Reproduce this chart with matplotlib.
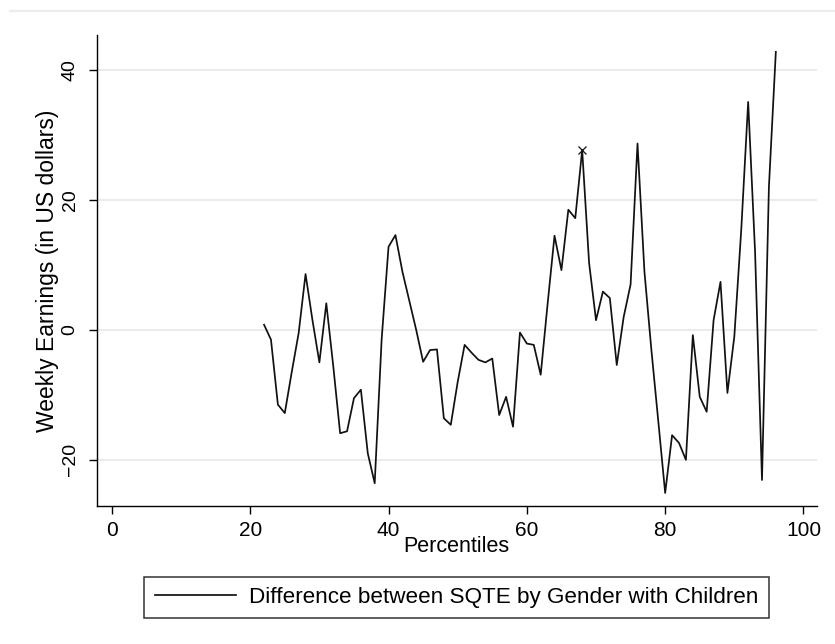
#!/usr/bin/env python3
import numpy as np
import matplotlib
matplotlib.use('Agg')
import matplotlib.pyplot as plt
from matplotlib.lines import Line2D

plt.rcParams['font.family'] = ['Liberation Sans', 'DejaVu Sans']

# percentiles 22..96
percentiles = list(range(22, 97))
difference = [
    0.8, -1.5, -11.5, -12.8, -6.5, -0.5, 8.6, 1.5, -5.0, 4.1,
    -5.5, -15.9, -15.6, -10.5, -9.2, -19.0, -23.6, -1.5, 12.8, 14.6,
    9.0, 4.5, 0.0, -4.9, -3.1, -3.0, -13.6, -14.6, -8.0, -2.3,
    -3.5, -4.6, -5.0, -4.4, -13.1, -10.3, -14.9, -0.4, -2.1, -2.3,
    -6.9, 4.0, 14.5, 9.2, 18.5, 17.2, 27.7, 10.3, 1.5, 5.9,
    4.9, -5.4, 2.0, 7.0, 28.7, 9.0, -3.0, -14.0, -25.1, -16.2,
    -17.4, -20.0, -0.8, -10.3, -12.6, 1.5, 7.4, -9.7, -1.0, 15.4,
    35.1, 12.0, -23.1, 22.0, 42.8,
]
marker_x = [68]
marker_y = [27.7]

x_ticks = [0, 20, 40, 60, 80, 100]
y_ticks = [-20, 0, 20, 40]
legend_label = 'Difference between SQTE by Gender with Children'


def make_plot():
    fig = plt.figure(figsize=(8.35, 6.44), dpi=100)
    ax = fig.add_axes([0.1158, 0.2143, 0.978 - 0.1158, 0.9457 - 0.2143])

    # faint outline at the top of the graph region
    fig.add_artist(Line2D([0.012, 1.0], [1 - 11 / 644, 1 - 11 / 644],
                          transform=fig.transFigure, color='#ececec', lw=1.6))

    ax.grid(True, axis='y', color='#e6e6e6', lw=1.1)
    ax.set_axisbelow(True)

    line, = ax.plot(percentiles, difference, color='#111111', lw=1.25)
    ax.plot(marker_x, marker_y, marker='x', color='#111111', ms=6, mew=0.9, ls='none')

    ax.set_xlim(-2.2, 101.9)
    ax.set_ylim(-27.1, 45.4)
    ax.set_xticks(x_ticks)
    ax.set_yticks(y_ticks)

    for side in ['top', 'right']:
        ax.spines[side].set_visible(False)
    for side in ['left', 'bottom']:
        ax.spines[side].set_linewidth(1.0)
        ax.spines[side].set_color('black')

    ax.tick_params(axis='x', length=6, width=1.0, labelsize=15, pad=5)
    ax.tick_params(axis='y', length=6, width=1.0, labelsize=14, pad=7)
    for lbl in ax.get_yticklabels():
        lbl.set_rotation(90)
        lbl.set_va('center')

    ax.set_xlabel('Percentiles', fontsize=15.5, labelpad=-3)
    ax.set_ylabel('Weekly Earnings (in US dollars)', fontsize=16.5, labelpad=2)

    leg = fig.legend([line], [legend_label], loc='center',
                     bbox_to_anchor=(0.5467, 0.0722), fontsize=16.2,
                     frameon=True, fancybox=False, edgecolor='black',
                     handlelength=3.6, handletextpad=0.6, borderpad=0.45,
                     borderaxespad=0)
    leg.get_frame().set_linewidth(1.1)

    fig.savefig('out.png', dpi=100)


if __name__ == '__main__':
    make_plot()
